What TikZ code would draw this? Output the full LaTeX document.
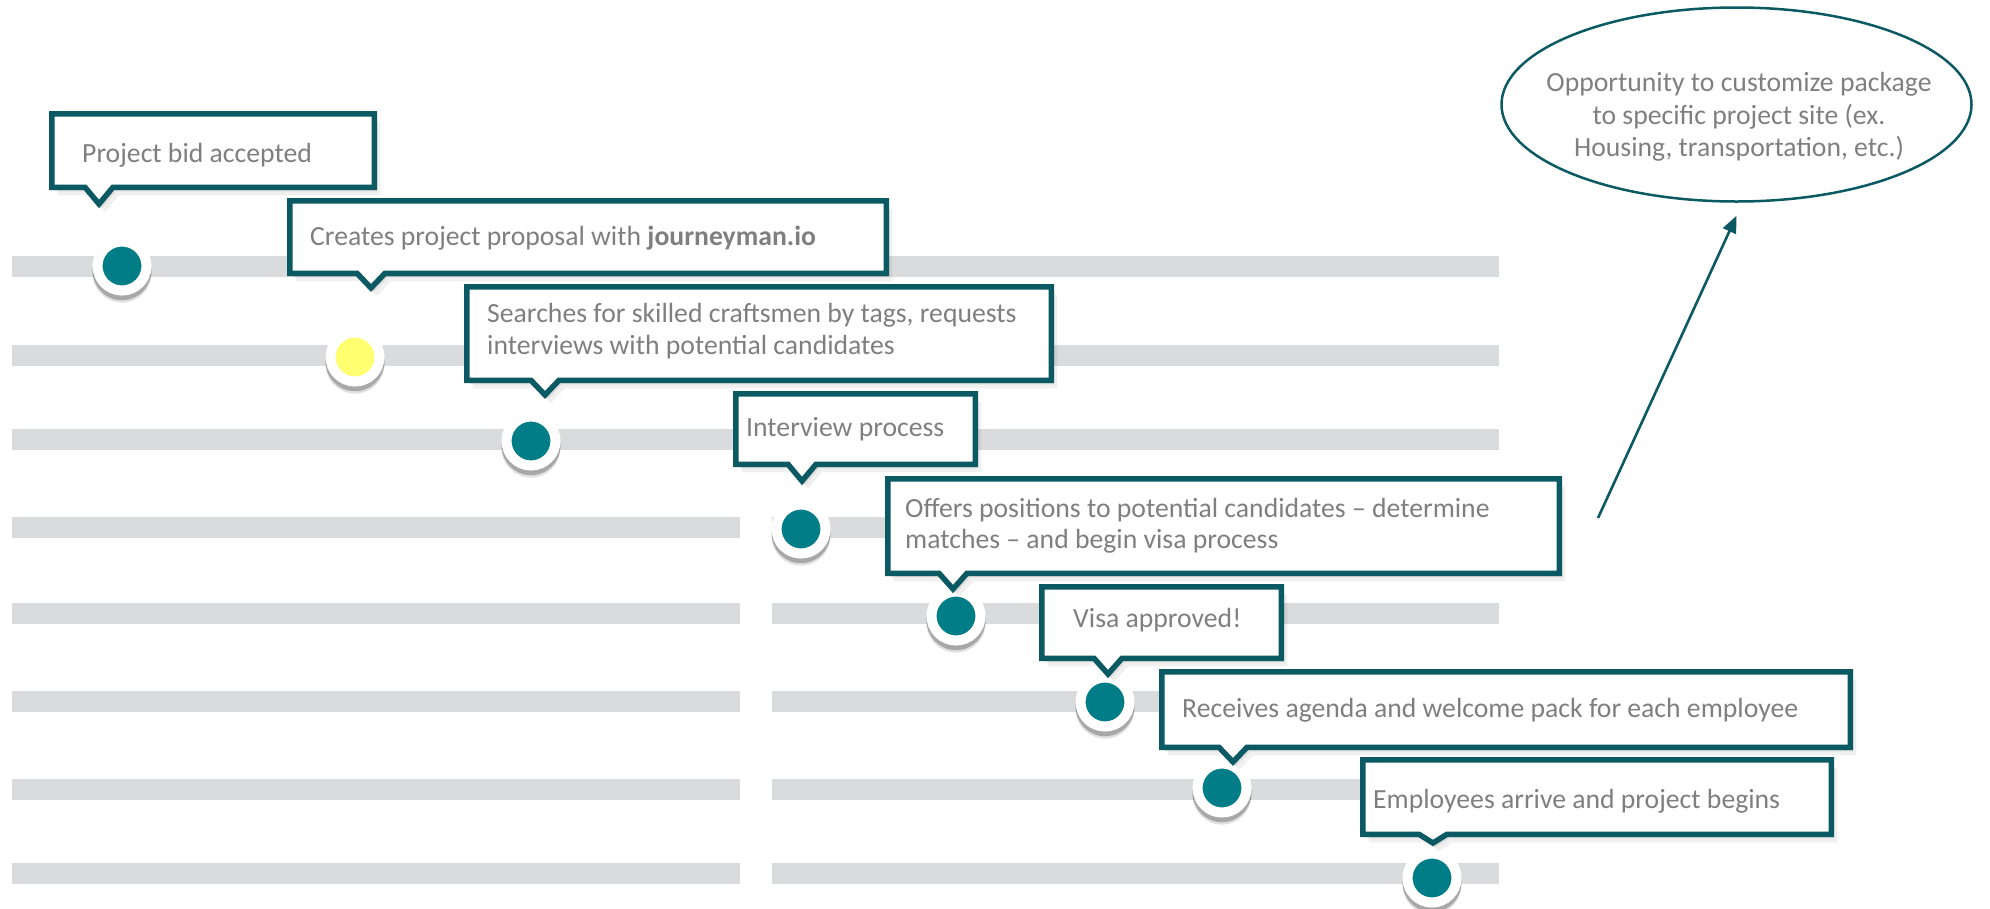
\documentclass[tikz,border=0pt]{standalone}
\usepackage{fontspec}
\setmainfont{Carlito}
\usetikzlibrary{shapes.geometric,shadows,arrows.meta}
\definecolor{boxteal}{HTML}{0B5963}
\definecolor{dotteal}{HTML}{007D87}
\definecolor{bargray}{HTML}{DADBDD}
\definecolor{txtgray}{HTML}{7F7F7F}
\definecolor{dotyellow}{HTML}{FFFF70}
\tikzset{
  bar/.style={fill=bargray, draw=none},
  dot/.style={circle, fill=dotteal, draw=white, line width=10pt, minimum size=49pt, inner sep=0pt,
    drop shadow={shadow scale=1.2, shadow xshift=0pt, shadow yshift=-6pt, opacity=0.12, fill=black},
    drop shadow={shadow scale=1.2, shadow xshift=0pt, shadow yshift=-4pt, opacity=0.25, fill=black}},
  ydot/.style={dot, fill=dotyellow},
  callbox/.style={draw=boxteal, line width=5.5pt, fill=white, line join=miter,
    drop shadow={opacity=0.06, shadow xshift=6pt, shadow yshift=-8pt, fill=black},
    drop shadow={opacity=0.08, shadow xshift=3pt, shadow yshift=-4pt, fill=black}},
  lbl/.style={font=\fontsize{27.7pt}{31.5pt}\selectfont, text=txtgray, inner sep=0pt, anchor=west, align=left},
  oval/.style={ellipse, draw=boxteal, line width=2.5pt, minimum width=470pt, minimum height=194pt, inner sep=0pt},
  pointer/.style={draw=boxteal, line width=2.6pt, -{Triangle[length=17pt, width=14pt]}}
}
% #1 L, #2 T, #3 R, #4 B (outer edges), #5 tip x, #6 tip y (outer)
\newcommand\callframe[6]{%
  \path[callbox] (#1+2.75,#2+2.75) -- (#3-2.75,#2+2.75) -- (#3-2.75,#4-2.75)
    -- (#5+14,#4-2.75) -- (#5,#6-4) -- (#5-14,#4-2.75) -- (#1+2.75,#4-2.75) -- cycle;}
\begin{document}
\begin{tikzpicture}[x=1pt,y=-1pt]
\useasboundingbox (0,0) rectangle (1990,908);
% bars
\fill[bar] (12,256) rectangle (1499,277);
\fill[bar] (12,345) rectangle (1499,366);
\fill[bar] (12,429) rectangle (1499,450);
\foreach \yy in {527.5,613.5,701.5,789.5,873.5}{
  \fill[bar] (12,\yy-10.5) rectangle (740,\yy+10.5);
  \fill[bar] (772,\yy-10.5) rectangle (1499,\yy+10.5);
}
% dots
\node[dot]  (d1) at (122,266) {};
\node[ydot] (d2) at (355,357) {};
\node[dot]  (d3) at (531,441) {};
\node[dot]  (d4) at (801,529) {};
\node[dot]  (d5) at (956,616) {};
\node[dot]  (d6) at (1105,702) {};
\node[dot]  (d7) at (1222,788) {};
\node[dot]  (d8) at (1432,878) {};
% callouts
\callframe{49}{111}{377}{190}{99}{208}
\node[lbl] (t1) at (82,155) {Project bid accepted};
\callframe{287}{198}{889}{276}{371}{292}
\node[lbl] (t2) at (310,238) {Creates project proposal with \textbf{journeyman.io}};
\callframe{464}{284}{1054}{383}{545}{399}
\node[lbl] (t3) at (487,331) {Searches for skilled craftsmen by tags, requests\\interviews with potential candidates};
\callframe{733}{391}{978}{467}{802}{485}
\node[lbl] (t4) at (746,429) {Interview process};
\callframe{885}{476}{1562}{576}{953}{593}
\node[lbl] (t5) at (905,526) {Offers positions to potential candidates – determine\\matches – and begin visa process};
\callframe{1039}{584}{1284}{661}{1108}{678}
\node[lbl] (t6) at (1073,620) {Visa approved!};
\callframe{1159}{669}{1853}{750}{1233}{766}
\node[lbl] (t7) at (1182,710) {Receives agenda and welcome pack for each employee};
\callframe{1360}{757}{1834}{837}{1433}{847}
\node[lbl] (t8) at (1373,801) {Employees arrive and project begins};
% ellipse and arrow
\node[oval] (opp) at (1736.5,104.5) {};
\node[lbl, anchor=center, align=center, font=\fontsize{27.7pt}{32.6pt}\selectfont] (opptxt) at (1739,117)
  {Opportunity to customize package\\to specific project site (ex.\\Housing, transportation, etc.)};
\coordinate (arrstart) at (1598,518);
\draw[pointer] (arrstart) -- ([yshift=-13pt]opp.south);
\end{tikzpicture}
\end{document}
